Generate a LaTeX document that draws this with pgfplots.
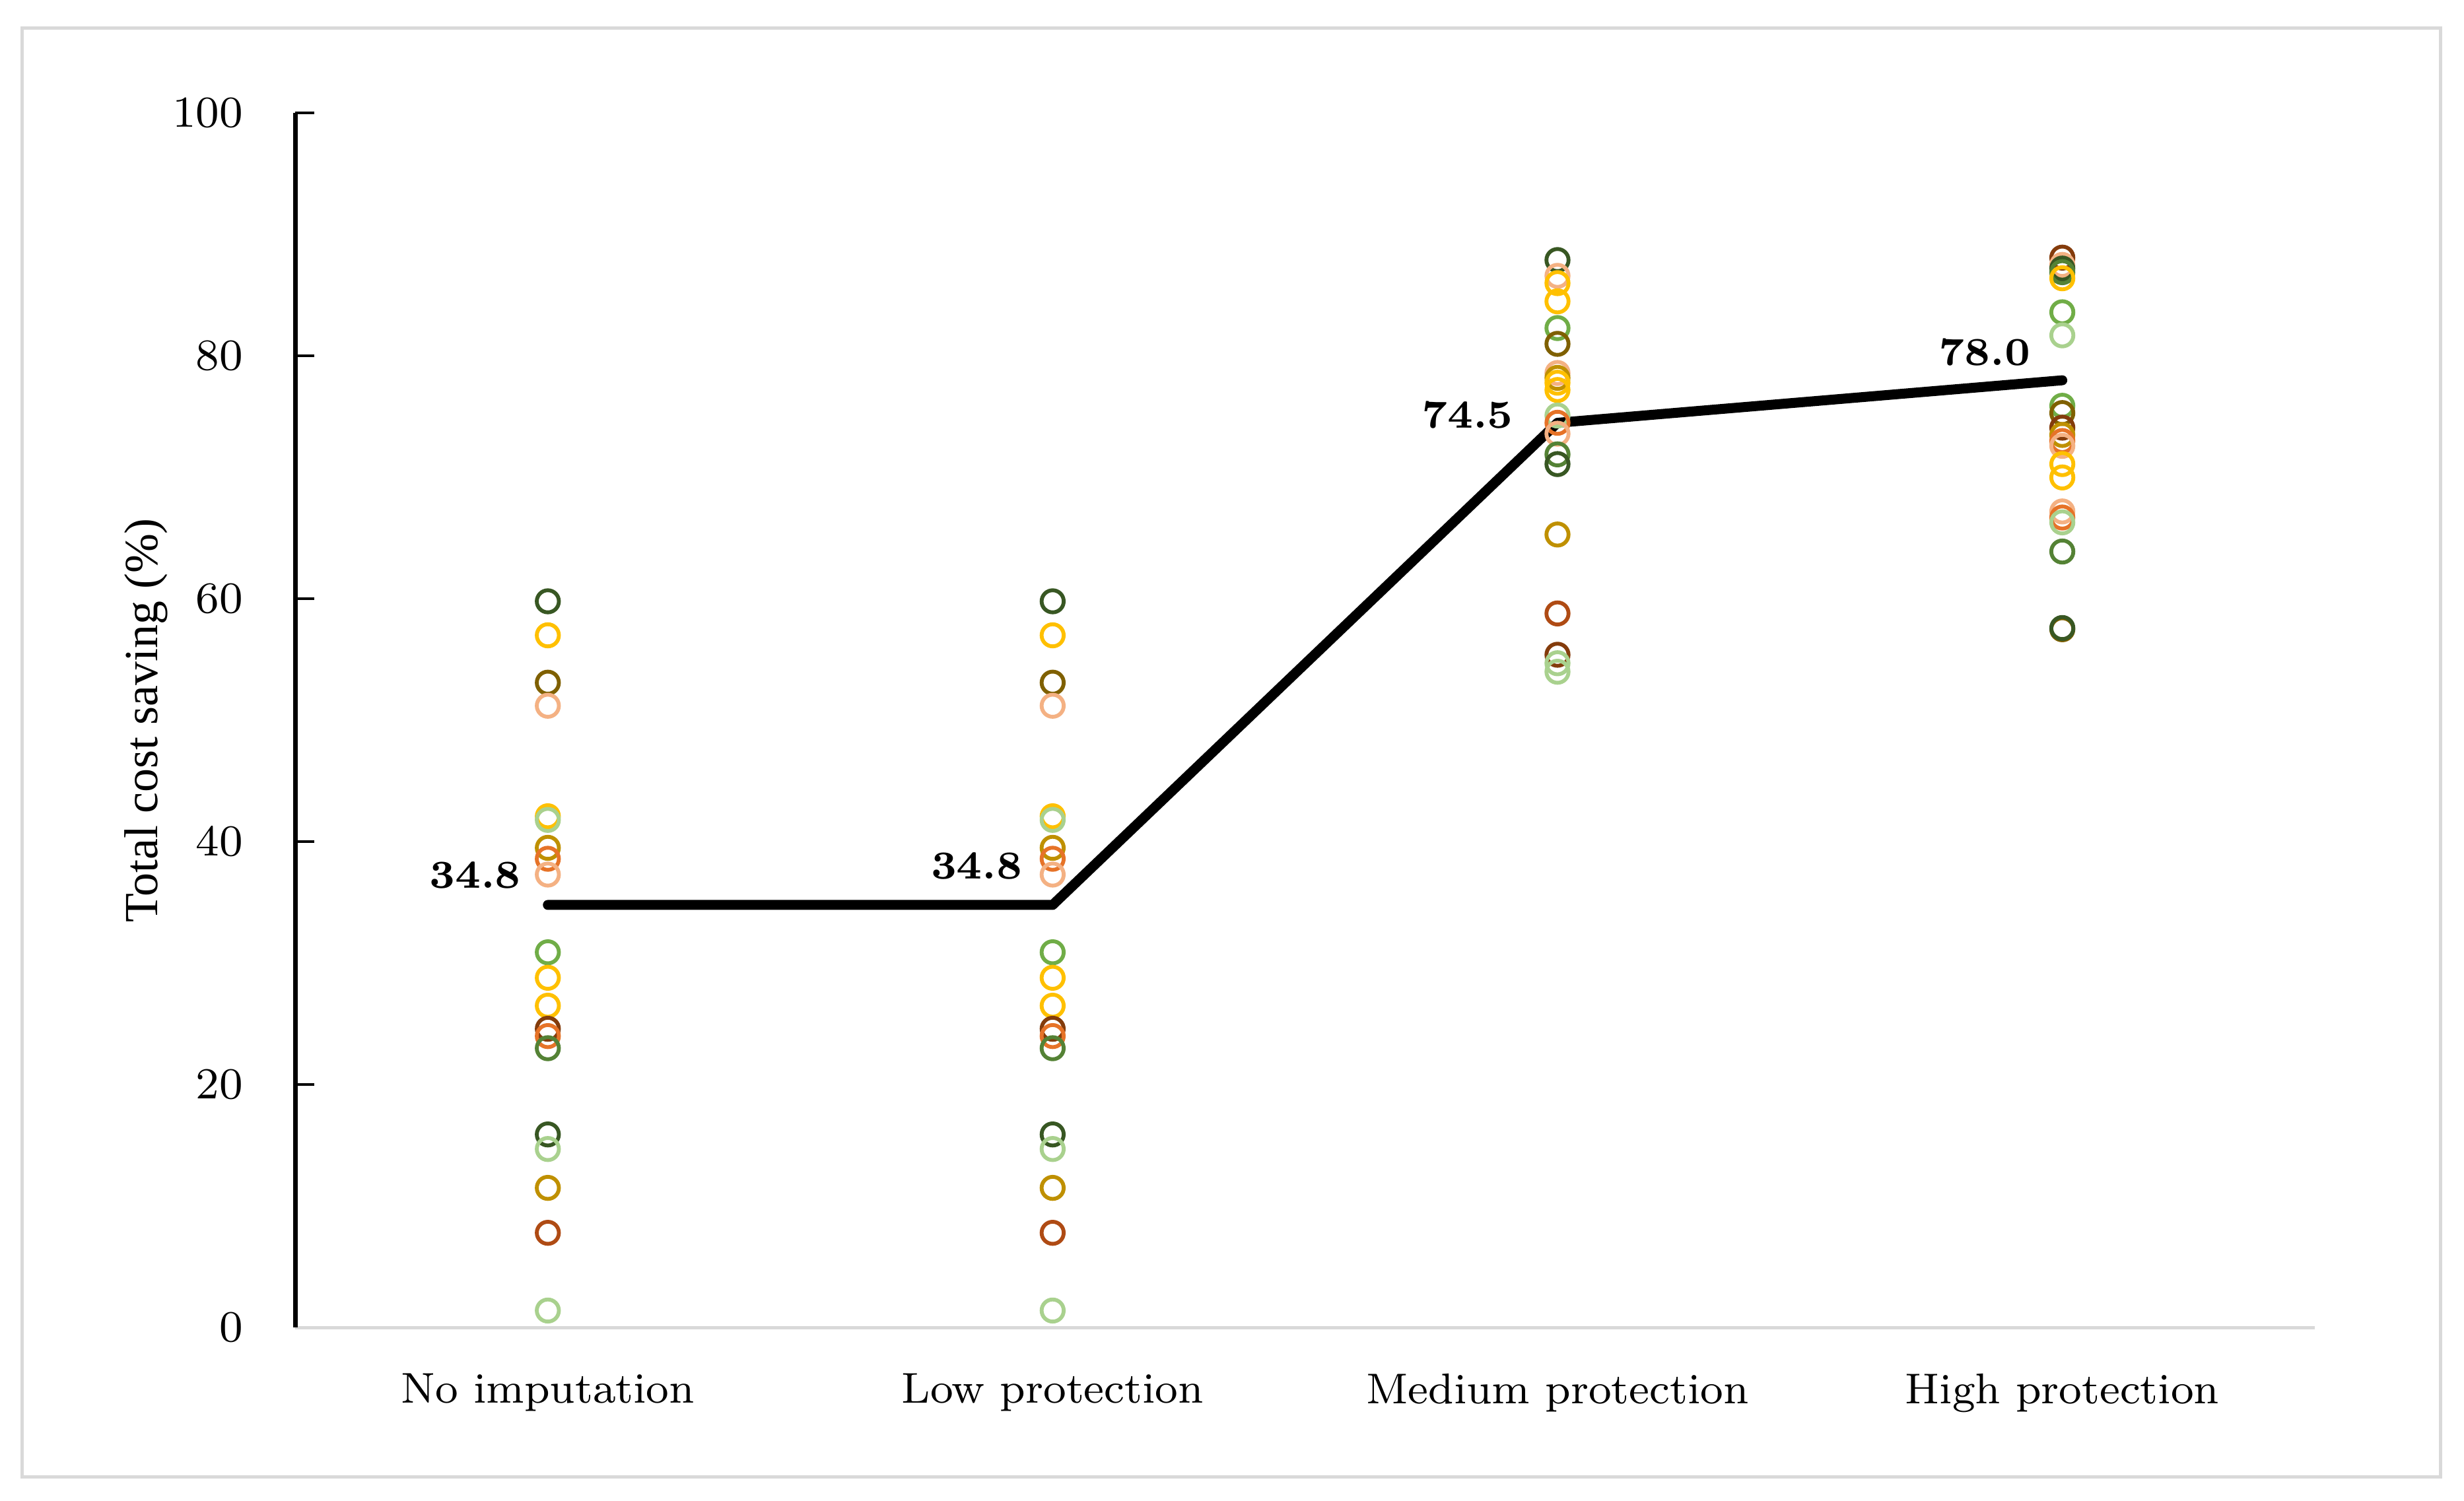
\documentclass[border=0pt]{standalone}
\usepackage{fontspec}
\usepackage{pgfplots}
\usepackage{pgfplotstable}
\pgfplotsset{compat=1.18}
\newfontfamily\tnr{Liberation Serif}

\definecolor{cDG}{RGB}{56,87,35}
\definecolor{cGR}{RGB}{84,130,53}
\definecolor{cMG}{RGB}{112,173,71}
\definecolor{cLG}{RGB}{169,209,142}
\definecolor{cYE}{RGB}{255,192,0}
\definecolor{cGD}{RGB}{191,144,0}
\definecolor{cOL}{RGB}{127,96,0}
\definecolor{cSA}{RGB}{244,177,131}
\definecolor{cOR}{RGB}{230,115,40}
\definecolor{cRU}{RGB}{175,75,20}
\definecolor{cBR}{RGB}{132,60,12}
\definecolor{frame}{RGB}{217,217,217}

% individual results per scenario
\pgfplotstableread{
x y c
0 59.8 dg
0 57.0 ye
0 53.1 ol
0 51.2 sa
0 42.1 ye
0 41.8 lg
0 39.5 gd
0 38.6 or
0 37.3 sa
0 30.9 mg
0 28.8 ye
0 26.5 ye
0 24.6 br
0 24.0 or
0 23.0 gr
0 15.9 dg
0 14.7 lg
0 11.5 gd
0 7.8 ru
0 1.4 lg
1 59.8 dg
1 57.0 ye
1 53.1 ol
1 51.2 sa
1 42.1 ye
1 41.8 lg
1 39.5 gd
1 38.6 or
1 37.3 sa
1 30.9 mg
1 28.8 ye
1 26.5 ye
1 24.6 br
1 24.0 or
1 23.0 gr
1 15.9 dg
1 14.7 lg
1 11.5 gd
1 7.8 ru
1 1.4 lg
2 87.9 dg
2 86.6 sa
2 86.0 ye
2 84.5 ye
2 82.3 mg
2 81.0 ol
2 78.6 sa
2 78.2 gd
2 77.8 ye
2 77.2 ye
2 75.1 lg
2 74.5 or
2 73.6 sa
2 71.9 gr
2 71.1 dg
2 65.3 gd
2 58.8 ru
2 55.4 br
2 54.7 lg
2 54.0 lg
3 88.1 br
3 87.5 sa
3 87.2 dg
3 86.9 gr
3 86.4 ye
3 83.6 mg
3 81.7 lg
3 75.9 mg
3 75.3 ol
3 74.1 br
3 73.5 gd
3 73.0 or
3 72.6 sa
3 71.1 ye
3 70.0 ye
3 67.2 sa
3 66.7 or
3 66.3 lg
3 63.9 gr
3 57.5 ol
3 57.6 dg
}\points

% average per scenario
\pgfplotstableread{
x y lab dx dy
0 34.8 34.8 -0.14 0.19
1 34.8 34.8 -0.16 0.25
2 74.5 74.5 -0.25 0.05
3 78.0 78.0 -0.17 0.18
}\means

\begin{document}
\begin{tikzpicture}
\useasboundingbox (0,0) rectangle (15.68,9.55);
\draw[frame, line width=0.6pt] (0.14,0.15) rectangle (15.53,9.37);
\begin{axis}[
    at={(1.88cm,1.10cm)}, anchor=south west,
    width=12.85cm, height=7.73cm, scale only axis,
    xmin=-0.5, xmax=3.5, ymin=0, ymax=100,
    axis x line*=bottom, axis y line*=left,
    x axis line style={draw=frame, line width=0.6pt},
    y axis line style={black, line width=0.8pt},
    xtick={0,1,2,3},
    xticklabels={No imputation, Low protection, Medium protection, High protection},
    x tick style={draw=none},
    xticklabel style={font=\fontsize{7.8}{9}\selectfont, yshift=-0.17cm},
    ytick={20,40,60,80,100},
    extra y ticks={0},
    extra y tick style={major tick length=0pt},
    y tick style={black, line width=0.5pt},
    tick align=inside, major tick length=0.12cm,
    yticklabel style={font=\fontsize{8}{9}\selectfont, xshift=-0.21cm},
    every axis y label/.style={at={(axis description cs:-0.074,0.5)}, rotate=90, anchor=center},
    ylabel={\tnr\fontsize{8.6}{10}\selectfont Total cost saving (\%)},
    clip=false,
]
\addplot[black, line width=1.8pt, line cap=round, line join=round,
    point meta=explicit symbolic,
    nodes near coords,
    visualization depends on={\thisrow{dx} \as \dx},
    visualization depends on={\thisrow{dy} \as \dy},
    every node near coord/.append style={anchor=east, inner sep=0pt,
        xshift=\dx cm, yshift=\dy cm, font=\fontsize{7.2}{8}\selectfont\bfseries}]
    table[x=x, y=y, meta=lab] {\means};
\addplot[scatter, only marks, mark=o, mark size=2pt,
    mark options={line width=0.7pt},
    point meta=explicit symbolic,
    scatter/classes={
        dg={cDG}, gr={cGR}, mg={cMG}, lg={cLG}, ye={cYE}, gd={cGD},
        ol={cOL}, sa={cSA}, or={cOR}, ru={cRU}, br={cBR}}]
    table[x=x, y=y, meta=c] {\points};
\end{axis}
\end{tikzpicture}
\end{document}
